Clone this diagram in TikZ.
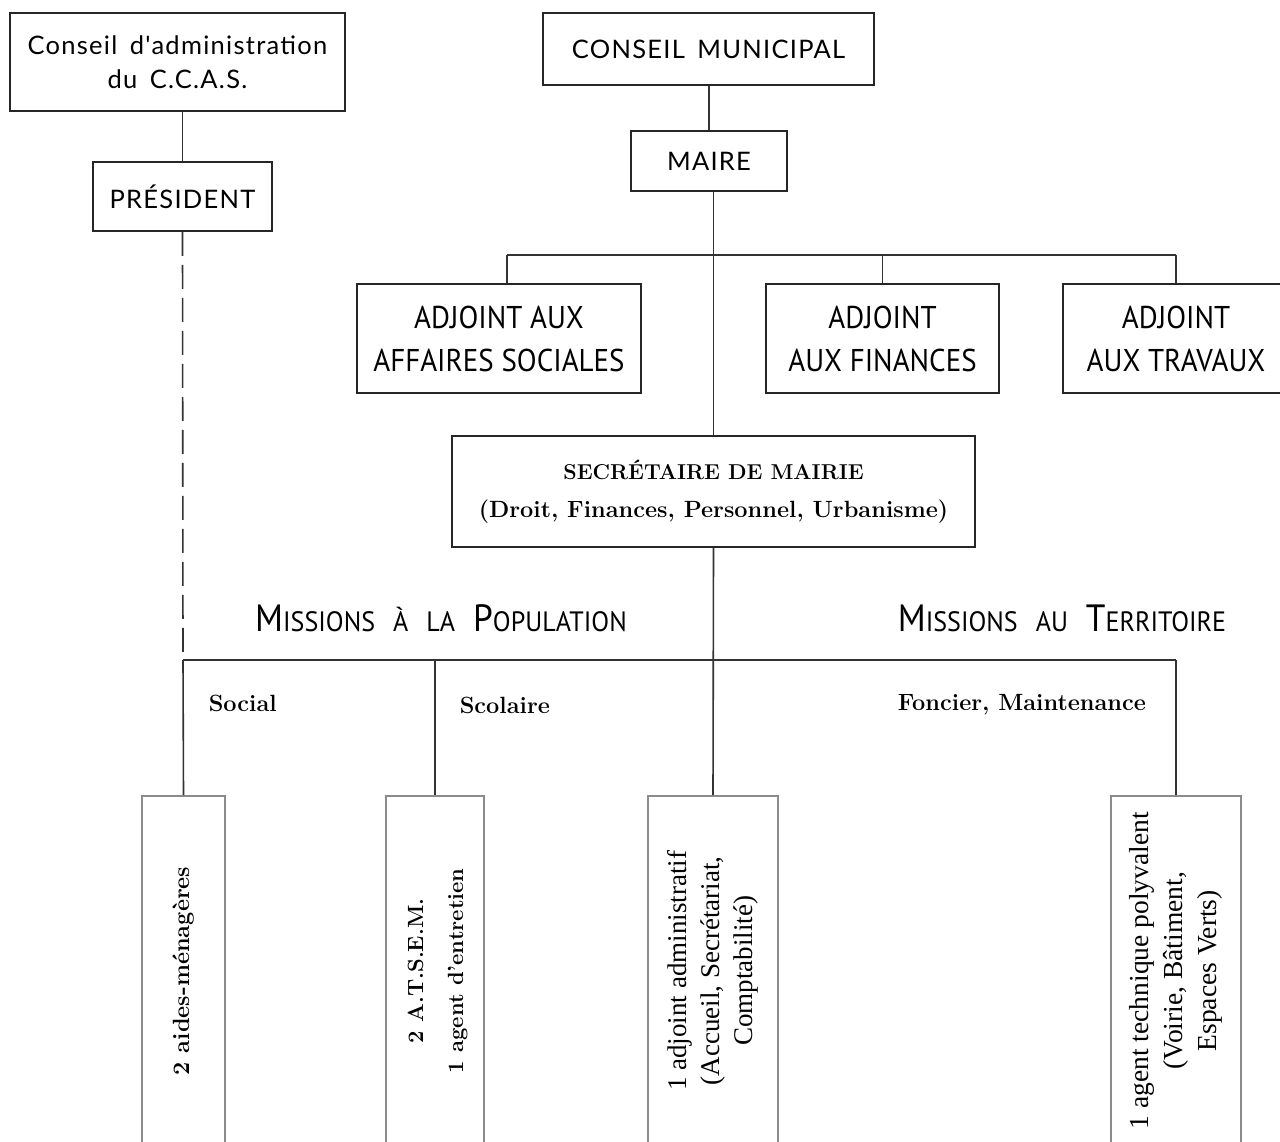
\documentclass[tikz,border=0pt]{standalone}
\usepackage{fontspec}
\newfontfamily\topfont[LetterSpace=5,WordSpace=1.6]{Lato}
\newfontfamily\condfont[FakeStretch=0.92]{PT Sans}
\newfontfamily\headfont[FakeStretch=0.93]{PT Sans}
\newfontfamily\timesfont{Liberation Serif}
\usetikzlibrary{calc}
\newcommand\hdbig[1]{{\fontsize{38}{38}\selectfont #1}}
\newcommand\hdsmall[1]{{\fontsize{28}{28}\selectfont #1}}
\newcommand\hdgap{\hspace{18pt}}
\begin{document}
\begin{tikzpicture}[x=1pt,y=-1pt,
  line width=1.6pt,
  link/.style={draw=black!80},
  topbox/.style={draw=black!85, line width=1.8pt, fill=white, align=center, inner sep=0pt,
    font=\topfont\fontsize{25.5}{34}\selectfont},
  adjbox/.style={draw=black!85, line width=1.8pt, fill=white, align=center, inner sep=0pt,
    font=\condfont\fontsize{31.5}{43}\selectfont},
  secbox/.style={draw=black!85, line width=1.8pt, fill=white, align=center, inner sep=0pt,
    font=\bfseries\fontsize{23}{38}\selectfont},
  staffbox/.style={draw=black!45, line width=1.6pt, fill=white, inner sep=0pt,
    minimum height=350, anchor=north},
  heading/.style={font=\headfont, inner sep=0pt},
  branch/.style={font=\bfseries\fontsize{23.5}{26}\selectfont, anchor=west, inner sep=0pt}
]
\useasboundingbox (0,0) rectangle (1280,1142);
\fill[white] (0,0) rectangle (1280,1142);

% C.C.A.S. side
\node[topbox, minimum width=335, minimum height=98] (ca) at (177.5,62)
  {Conseil d'administration\\du C.C.A.S.};
\node[topbox, minimum width=179, minimum height=69] (pres) at (182.5,196.5) {PRÉSIDENT};

% Municipal side
\node[topbox, minimum width=331, minimum height=72] (cm) at (708.5,49) {CONSEIL MUNICIPAL};
\node[topbox, minimum width=156, minimum height=60] (maire) at (709,161) {MAIRE};

\node[adjbox, minimum width=284, minimum height=109] (aas) at (499,338.5)
  {ADJOINT AUX\\AFFAIRES SOCIALES};
\node[adjbox, minimum width=233, minimum height=109] (afi) at (882.5,338.5)
  {ADJOINT\\AUX FINANCES};
\node[adjbox, minimum width=226, minimum height=109] (atr) at (1176,338.5)
  {ADJOINT\\AUX TRAVAUX};

\node[secbox, minimum width=523, minimum height=111] (sec) at (713.5,491.5)
  {{\fontsize{21.5}{38}\selectfont SECRÉTAIRE DE MAIRIE}\\
   {\fontsize{23.5}{38}\selectfont (Droit, Finances, Personnel, Urbanisme)}};

% Mission headings and branch labels
\node[heading] (mpop) at (441,618)
  {\hdbig{M}\hdsmall{ISSIONS}\hdgap\hdsmall{À}\hdgap\hdsmall{LA}\hdgap\hdbig{P}\hdsmall{OPULATION}};
\node[heading] (mter) at (1062,618)
  {\hdbig{M}\hdsmall{ISSIONS}\hdgap\hdsmall{AU}\hdgap\hdbig{T}\hdsmall{ERRITOIRE}};
\node[branch] (lsoc) at (208,703) {Social};
\node[branch] (lsco) at (459,705) {Scolaire};
\node[branch] (lfon) at (897,705) {Foncier, Maintenance};

% Staff boxes
\node[staffbox, minimum width=83] (b1) at (183.5,795)
  {\rotatebox{90}{\bfseries\fontsize{23.5}{38}\selectfont 2 aides-ménagères}};
\node[staffbox, minimum width=98] (b2) at (435,795)
  {\rotatebox{90}{\bfseries\fontsize{22}{40}\selectfont\begin{tabular}{@{}c@{}}2 A.T.S.E.M.\\1 agent d'entretien\end{tabular}}\hspace{8pt}};
\node[staffbox, minimum width=130] (b3) at (713,795)
  {\rotatebox{90}{\timesfont\fontsize{27}{33}\selectfont\begin{tabular}{@{}c@{}}1 adjoint administratif\\(Accueil, Secrétariat,\\Comptabilité)\end{tabular}}};
\node[staffbox, minimum width=130] (b4) at (1176,795)
  {\rotatebox{90}{\timesfont\fontsize{27.5}{34}\selectfont\begin{tabular}{@{}c@{}}1 agent technique polyvalent\\(Voirie, Bâtiment,\\Espaces Verts)\end{tabular}}};

% Bus coordinates
\coordinate (j1) at (507,255);
\coordinate (j3) at (1176,255);
\coordinate (k1) at (183,660);
\coordinate (k4) at (1176,660);

% Connectors
\draw[link] (pres.north |- ca.south) -- (pres.north);
\draw[link, dash pattern=on 24pt off 9pt] (pres.south) -- (k1);
\draw[link] (maire.north |- cm.south) -- (maire.north);
\draw[link] (sec.north |- maire.south) -- (sec.north);
\draw[link] (j1) -- (j3);
\draw[link] (j1) -- (j1 |- aas.north);
\draw[link] (afi.north |- j1) -- (afi.north);
\draw[link] (j3) -- (atr.north);
\draw[link] (sec.south) -- (b3.north);
\draw[link] (k1) -- (k4);
\draw[link] (k1) -- (b1.north);
\draw[link] (b2.north |- k1) -- (b2.north);
\draw[link] (k4) -- (b4.north);
\end{tikzpicture}
\end{document}
